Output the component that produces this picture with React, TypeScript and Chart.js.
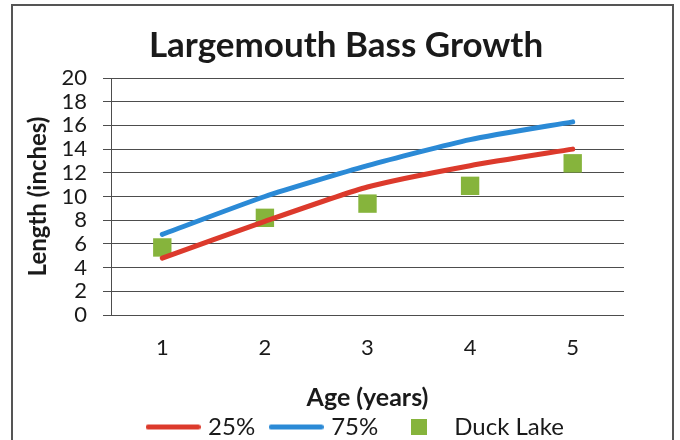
import React, { useEffect, useRef } from 'react';
import { Chart, registerables } from 'chart.js';

Chart.register(...registerables);

// ---- data ----
const ages: string[] = ['1', '2', '3', '4', '5'];
const pct25: number[] = [4.8, 7.9, 10.8, 12.6, 14.0];
const pct75: number[] = [6.8, 10.0, 12.6, 14.8, 16.3];
const duckLake: number[] = [5.7, 8.2, 9.4, 10.9, 12.8];
const seriesNames: string[] = ['25%', '75%', 'Duck Lake'];
const yMin = 0;
const yMax = 20;
const yStep = 2;

const titleText = 'Largemouth Bass Growth';
const xTitle = 'Age (years)';
const yTitle = 'Length (inches)';

const RED = '#dc3a2c';
const BLUE = '#2b8ad6';
const GREEN = '#86b43c';
const GRID = '#4d4d4d';
const TEXT = '#1a1a1a';
const FONT = 'Lato, "Open Sans", sans-serif';

function lineIcon(color: string, w: number, h: number): HTMLCanvasElement {
  const c = document.createElement('canvas');
  c.width = w;
  c.height = h + 2;
  const ctx = c.getContext('2d')!;
  ctx.strokeStyle = color;
  ctx.lineWidth = h;
  ctx.lineCap = 'round';
  ctx.beginPath();
  ctx.moveTo(h / 2, (h + 2) / 2);
  ctx.lineTo(w - h / 2, (h + 2) / 2);
  ctx.stroke();
  return c;
}

function squareIcon(color: string, s: number): HTMLCanvasElement {
  const c = document.createElement('canvas');
  c.width = s;
  c.height = s;
  const ctx = c.getContext('2d')!;
  ctx.fillStyle = color;
  ctx.fillRect(0, 0, s, s);
  return c;
}

const boxShift = {
  id: 'boxShift',
  afterLayout(chart: any) {
    const lg = chart.legend;
    if (lg) {
      lg.left += 35;
      lg.right += 35;
    }
    const tb = chart.titleBlock;
    if (tb) {
      tb.left += 24;
      tb.right += 24;
    }
  },
};

export default function App() {
  const ref = useRef<HTMLCanvasElement | null>(null);

  useEffect(() => {
    document.body.style.margin = '0';
    if (!ref.current) return;
    const icons = [lineIcon(RED, 55, 5), lineIcon(BLUE, 55, 5), squareIcon(GREEN, 16)];
    const chart = new Chart(ref.current, {
      type: 'line',
      data: {
        labels: ages,
        datasets: [
          {
            label: seriesNames[0],
            data: pct25,
            borderColor: RED,
            backgroundColor: RED,
            borderWidth: 5,
            borderCapStyle: 'round',
            tension: 0.2,
            pointRadius: 0,
            pointHoverRadius: 0,
            fill: false,
          },
          {
            label: seriesNames[1],
            data: pct75,
            borderColor: BLUE,
            backgroundColor: BLUE,
            borderWidth: 5,
            borderCapStyle: 'round',
            tension: 0.2,
            pointRadius: 0,
            pointHoverRadius: 0,
            fill: false,
          },
          {
            label: seriesNames[2],
            data: duckLake,
            showLine: false,
            borderColor: GREEN,
            backgroundColor: GREEN,
            borderWidth: 0,
            pointStyle: 'rect',
            pointRadius: 13,
            pointHoverRadius: 13,
          },
        ],
      },
      options: {
        responsive: false,
        animation: false,
        layout: { padding: { left: 20, right: 56, top: 0, bottom: 2 } },
        plugins: {
          title: {
            display: true,
            text: titleText,
            color: TEXT,
            font: { family: FONT, size: 35, weight: 'bold' },
            padding: { top: 25, bottom: 11 },
          },
          legend: {
            position: 'bottom',
            labels: {
              usePointStyle: true,
              pointStyleWidth: 46,
              padding: 18,
              color: TEXT,
              font: { family: FONT, size: 24 },
              generateLabels: (ch: any) => {
                const items = (Chart.defaults.plugins.legend.labels as any).generateLabels(ch);
                return items.map((it: any, i: number) => ({ ...it, pointStyle: icons[i] }));
              },
            },
          },
          tooltip: { enabled: false },
        },
        scales: {
          x: {
            type: 'category',
            offset: true,
            afterFit: (s: any) => {
              s.height = 82;
            },
            grid: { display: false },
            border: { display: false },
            ticks: {
              color: TEXT,
              padding: 12,
              font: { family: FONT, size: 22 },
            },
            title: {
              display: true,
              text: xTitle,
              color: TEXT,
              font: { family: FONT, size: 25, weight: 'bold' },
              padding: { top: 0, bottom: -16 },
            },
          },
          y: {
            min: yMin,
            max: yMax,
            afterFit: (s: any) => {
              s.width = 91;
            },
            grid: {
              color: GRID,
              lineWidth: 1,
              drawTicks: true,
              tickLength: 8,
            },
            border: { display: true, color: GRID, width: 1 },
            ticks: {
              stepSize: yStep,
              autoSkip: false,
              color: TEXT,
              padding: 16,
              font: { family: FONT, size: 22 },
            },
            title: {
              display: true,
              text: yTitle,
              color: TEXT,
              font: { family: FONT, size: 24, weight: 'bold' },
              padding: { top: 4, bottom: 0 },
            },
          },
        },
      },
      plugins: [boxShift],
    });
    return () => chart.destroy();
  }, []);

  return (
    <div style={{ position: 'relative', width: 680, height: 440, overflow: 'hidden', background: '#fff' }}>
      <canvas ref={ref} width={680} height={451} style={{ display: 'block' }} />
      <div
        style={{
          position: 'absolute',
          left: 11,
          top: 4,
          width: 663,
          height: 460,
          border: '2px solid #555',
          boxSizing: 'border-box',
          pointerEvents: 'none',
        }}
      />
    </div>
  );
}
